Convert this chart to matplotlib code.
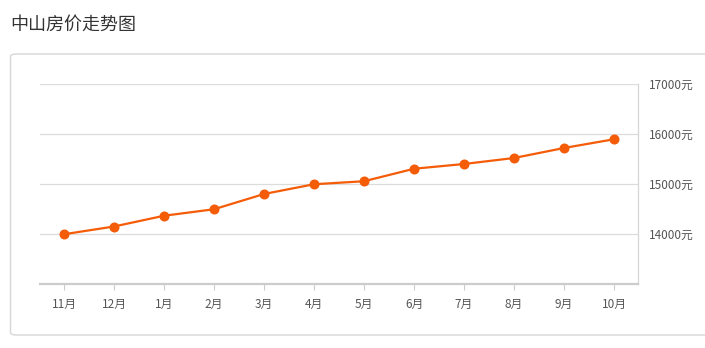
import matplotlib

matplotlib.use("Agg")
import matplotlib.pyplot as plt
from matplotlib.patches import FancyBboxPatch

months = ["11月", "12月", "1月", "2月", "3月", "4月", "5月", "6月", "7月", "8月", "9月", "10月"]
prices = [13995, 14150, 14365, 14495, 14800, 14995, 15055, 15305, 15400, 15520, 15720, 15895]
y_ticks = [14000, 15000, 16000, 17000]
y_tick_labels = [f"{v}元" for v in y_ticks]

W, H = 705, 348

plt.rcParams["font.family"] = ["Noto Sans CJK SC", "DejaVu Sans"]

fig = plt.figure(figsize=(W / 100, H / 100), dpi=100)
fig.patch.set_facecolor("white")

# card frame, kept behind the axes
card = FancyBboxPatch(
    (10.5 / W, (H - 335) / H), 720 / W, 281 / H,
    boxstyle="round,pad=0,rounding_size=0.008",
    transform=fig.transFigure, facecolor="white", edgecolor="#d6d6d6",
    linewidth=1.0, zorder=-1,
)
fig.patches.append(card)

fig.text(10 / W, 1 - 25 / H, "中山房价走势图", fontsize=13, color="#333333", va="center", ha="left")

ax = fig.add_axes([40 / W, (H - 284) / H, 598 / W, 200 / H])
ax.set_zorder(2)
ax.set_facecolor("none")
x = list(range(len(months)))
ax.plot(x, prices, color="#f55c08", linewidth=1.6, marker="o", markersize=6.2, zorder=3, clip_on=False)

ax.set_xlim(-0.48, len(months) - 1 + 0.48)
ax.set_ylim(13000, 17000)
ax.set_xticks(x)
ax.set_xticklabels(months)
ax.set_yticks(y_ticks)
ax.set_yticklabels(y_tick_labels)
ax.yaxis.tick_right()
ax.grid(True, axis="y", color="#dcdcdc", linewidth=0.9)
ax.tick_params(axis="x", length=4, width=0.8, color="#cccccc", labelsize=8.5, labelcolor="#555555", pad=6)
ax.tick_params(axis="y", length=0, labelsize=8.5, labelcolor="#555555", pad=8)

for side in ("top", "left"):
    ax.spines[side].set_visible(False)
ax.spines["right"].set_color("#d6d6d6")
ax.spines["right"].set_linewidth(0.9)
ax.spines["bottom"].set_color("#cccccc")
ax.spines["bottom"].set_linewidth(1.6)

fig.savefig("out.png", dpi=100)
